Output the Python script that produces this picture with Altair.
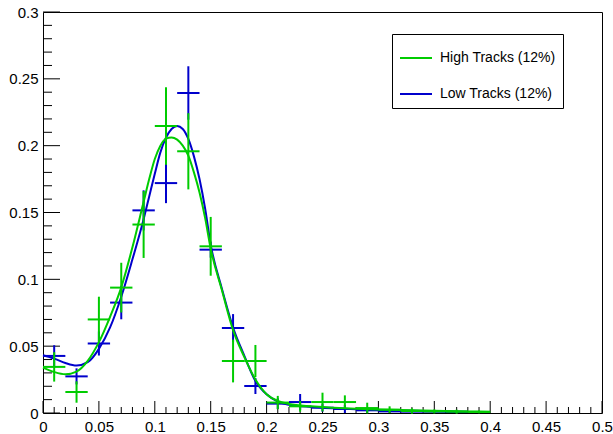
import altair as alt
import pandas as pd

HIGH = "High Tracks (12%)"
LOW = "Low Tracks (12%)"
GREEN = "#00cc00"
BLUE = "#0000cc"
BIN_HALF = 0.01

# histogram points (bin centres, contents, errors)
high_x = [0.01, 0.03, 0.05, 0.07, 0.09, 0.11, 0.13, 0.15, 0.17, 0.19,
          0.21, 0.23, 0.25, 0.27, 0.29, 0.31, 0.33, 0.35, 0.37, 0.39]
high_y = [0.0345, 0.0157, 0.070, 0.0938, 0.141, 0.2147, 0.1958, 0.1247, 0.0389, 0.0389,
          0.0078, 0.005, 0.0082, 0.0082, 0.0037, 0.0025, 0.0015, 0.0012, 0.001, 0.0008]
high_err = [0.011, 0.008, 0.017, 0.0186, 0.025, 0.029, 0.0285, 0.022, 0.016, 0.012,
            0.005, 0.004, 0.007, 0.005, 0.004, 0.0025, 0.002, 0.0015, 0.0015, 0.001]

low_x = [0.01, 0.03, 0.05, 0.07, 0.09, 0.11, 0.13, 0.15, 0.17, 0.19,
         0.21, 0.23, 0.25, 0.27, 0.29, 0.31, 0.33, 0.35, 0.37]
low_y = [0.0427, 0.0274, 0.052, 0.0826, 0.1516, 0.172, 0.2394, 0.1222, 0.0636, 0.0202,
         0.007, 0.0082, 0.004, 0.003, 0.002, 0.0012, 0.001, 0.001, 0.0008]
low_err = [0.008, 0.006, 0.009, 0.0125, 0.015, 0.015, 0.020, 0.006, 0.0104, 0.006,
           0.004, 0.006, 0.003, 0.003, 0.002, 0.001, 0.001, 0.001, 0.0008]

# fitted curves
curve_x = [0.0, 0.01, 0.02, 0.03, 0.04, 0.05, 0.06, 0.07, 0.08, 0.09, 0.095, 0.10,
           0.105, 0.11, 0.115, 0.12, 0.125, 0.13, 0.135, 0.14, 0.145, 0.15, 0.16,
           0.17, 0.18, 0.19, 0.20, 0.21, 0.22, 0.24, 0.26, 0.28, 0.30, 0.34, 0.38]
low_curve = [0.0432, 0.0407, 0.0374, 0.0355, 0.038, 0.048, 0.064, 0.087, 0.115, 0.145,
             0.162, 0.179, 0.195, 0.206, 0.2125, 0.2147, 0.2125, 0.205, 0.192, 0.175,
             0.153, 0.126, 0.093, 0.064, 0.043, 0.024, 0.014, 0.0085, 0.0062, 0.0045,
             0.0035, 0.0028, 0.0022, 0.0015, 0.001]
high_curve_x = curve_x + [0.40]
high_curve = [0.034, 0.0307, 0.029, 0.031, 0.039, 0.053, 0.072, 0.094, 0.124, 0.158,
              0.175, 0.19, 0.2, 0.2053, 0.2062, 0.2045, 0.2, 0.1925, 0.18, 0.165,
              0.146, 0.123, 0.092, 0.062, 0.042, 0.025, 0.014, 0.009, 0.0068, 0.005,
              0.004, 0.0032, 0.0026, 0.0018, 0.0012, 0.001]

# axis ticks
x_major = [0.0, 0.05, 0.1, 0.15, 0.2, 0.25, 0.3, 0.35, 0.4, 0.45, 0.5]
x_minor = [0.01, 0.02, 0.03, 0.04, 0.06, 0.07, 0.08, 0.09, 0.11, 0.12, 0.13, 0.14,
           0.16, 0.17, 0.18, 0.19, 0.21, 0.22, 0.23, 0.24, 0.26, 0.27, 0.28, 0.29,
           0.31, 0.32, 0.33, 0.34, 0.36, 0.37, 0.38, 0.39, 0.41, 0.42, 0.43, 0.44,
           0.46, 0.47, 0.48, 0.49]
y_major = [0.0, 0.05, 0.1, 0.15, 0.2, 0.25, 0.3]
y_minor = [0.01, 0.02, 0.03, 0.04, 0.06, 0.07, 0.08, 0.09, 0.11, 0.12, 0.13, 0.14,
           0.16, 0.17, 0.18, 0.19, 0.21, 0.22, 0.23, 0.24, 0.26, 0.27, 0.28, 0.29]

W, H = 559, 401
FONT = "Liberation Sans"

def points(xs, ys, es, name):
    df = pd.DataFrame({"x": xs, "y": ys, "err": es})
    df["x_lo"] = df["x"] - BIN_HALF
    df["x_hi"] = df["x"] + BIN_HALF
    df["y_lo"] = df["y"] - df["err"]
    df["y_hi"] = df["y"] + df["err"]
    df["series"] = name
    return df

hp = points(high_x, high_y, high_err, HIGH)
lp = points(low_x, low_y, low_err, LOW)
hc = pd.DataFrame({"x": high_curve_x, "y": high_curve, "series": HIGH})
lc = pd.DataFrame({"x": curve_x, "y": low_curve, "series": LOW})

xs = alt.Scale(domain=[0, 0.5], nice=False, zero=False)
ys = alt.Scale(domain=[0, 0.3], nice=False, zero=False)
AX = alt.Axis(values=x_major, format="~g", title=None, labelPadding=6,
              labelFlush=False, labelOverlap=False)
AY = alt.Axis(values=y_major, format="~g", title=None, labelPadding=5,
              labelOverlap=False)
cscale = alt.Scale(domain=[HIGH, LOW], range=[GREEN, BLUE])
LEG = alt.Legend(title=None)
col = alt.Color("series:N", scale=cscale, legend=LEG)

def errbars(df):
    base = alt.Chart(df)
    h = base.mark_rule(strokeWidth=2).encode(
        x=alt.X("x_lo:Q", scale=xs, axis=AX), x2="x_hi:Q",
        y=alt.Y("y:Q", scale=ys, axis=AY), color=col)
    v = base.mark_rule(strokeWidth=2).encode(
        x=alt.X("x:Q", scale=xs, axis=AX),
        y=alt.Y("y_lo:Q", scale=ys, axis=AY), y2="y_hi:Q", color=col)
    return [h, v]

def curve(df):
    return alt.Chart(df).mark_line(strokeWidth=2, interpolate="monotone").encode(
        x=alt.X("x:Q", scale=xs, axis=AX),
        y=alt.Y("y:Q", scale=ys, axis=AY), color=col)

def xticks(vals, length):
    return alt.Chart(pd.DataFrame({"t": vals})).mark_rule(color="black", strokeWidth=1).encode(
        x=alt.X("t:Q", scale=xs, axis=AX), y=alt.value(H), y2=alt.value(H - length))

def yticks(vals, length):
    return alt.Chart(pd.DataFrame({"t": vals})).mark_rule(color="black", strokeWidth=1).encode(
        y=alt.Y("t:Q", scale=ys, axis=AY), x=alt.value(0), x2=alt.value(length))

layers = ([xticks(x_major, 12), xticks(x_minor, 6), yticks(y_major, 17), yticks(y_minor, 9)]
          + errbars(lp) + [curve(lc)] + errbars(hp) + [curve(hc)])

chart = alt.layer(*layers).properties(
    width=W, height=H,
    autosize=alt.AutoSizeParams(type="none"),
    padding={"left": 43, "top": 12, "right": 11, "bottom": 21},
    background="white",
).configure_view(
    stroke="black", strokeWidth=1
).configure_axis(
    ticks=False, tickSize=0, domain=False, grid=False,
    labelFont=FONT, labelFontSize=15, labelColor="black",
).configure_legend(
    orient="none", legendX=349, legendY=22,
    strokeColor="black", fillColor="white", padding=7,
    symbolType="stroke", symbolSize=1024, symbolStrokeWidth=2,
    labelFont=FONT, labelFontSize=14, labelColor="black",
    labelOffset=7, rowPadding=12,
)

chart.save("out.html", embed_options={"renderer": "svg", "actions": False})
